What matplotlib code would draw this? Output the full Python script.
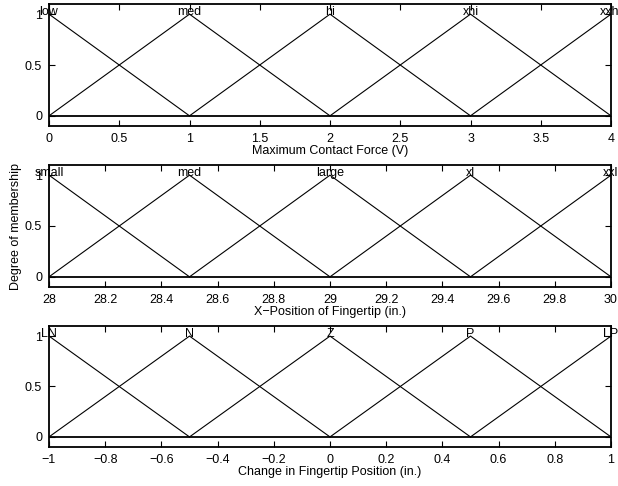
import matplotlib
matplotlib.use("Agg")
import matplotlib.pyplot as plt
import numpy as np

plt.rcParams['font.family'] = ['Liberation Sans', 'DejaVu Sans']

# Membership function data (triangular: [a, b, c])
force_range = [0, 4]
force_names = ["low", "med", "hi", "xhi", "xxhi"]
force_params = [[-1, 0, 1], [0, 1, 2], [1, 2, 3], [2, 3, 4], [3, 4, 5]]
force_ticks = [0, 0.5, 1, 1.5, 2, 2.5, 3, 3.5, 4]
force_ticklabels = ["0", "0.5", "1", "1.5", "2", "2.5", "3", "3.5", "4"]

pos_range = [28, 30]
pos_names = ["small", "med", "large", "xl", "xxl"]
pos_params = [[27.5, 28, 28.5], [28, 28.5, 29], [28.5, 29, 29.5], [29, 29.5, 30], [29.5, 30, 30.5]]
pos_ticks = [28, 28.2, 28.4, 28.6, 28.8, 29, 29.2, 29.4, 29.6, 29.8, 30]
pos_ticklabels = ["28", "28.2", "28.4", "28.6", "28.8", "29", "29.2", "29.4", "29.6", "29.8", "30"]

chg_range = [-1, 1]
chg_names = ["LN", "N", "Z", "P", "LP"]
chg_params = [[-1.5, -1, -0.5], [-1, -0.5, 0], [-0.5, 0, 0.5], [0, 0.5, 1], [0.5, 1, 1.5]]
chg_ticks = [-1, -0.8, -0.6, -0.4, -0.2, 0, 0.2, 0.4, 0.6, 0.8, 1]
chg_ticklabels = ["\u22121", "\u22120.8", "\u22120.6", "\u22120.4", "\u22120.2", "0", "0.2", "0.4", "0.6", "0.8", "1"]

xlabels = ["Maximum Contact Force (V)", "X\u2212Position of Fingertip (in.)",
           "Change in Fingertip Position (in.)"]
y_ticks = [0, 0.5, 1]
y_ticklabels = ["0", "0.5", "1"]

panels = [
    (force_range, force_names, force_params, force_ticks, force_ticklabels),
    (pos_range, pos_names, pos_params, pos_ticks, pos_ticklabels),
    (chg_range, chg_names, chg_params, chg_ticks, chg_ticklabels),
]

W, H = 618, 486
fig = plt.figure(figsize=(W / 100, H / 100), dpi=100)

# axes boxes in pixels: (left, top, right, bottom)
boxes = [(49, 4, 611, 126), (49, 165, 611, 287), (49, 326, 611, 447)]

FS = 9
for i, ((rng, names, params, ticks, tlabels), box) in enumerate(zip(panels, boxes)):
    l, t, r, b = box
    ax = fig.add_axes([l / W, 1 - b / H, (r - l) / W, (b - t) / H])
    for p in params:
        ax.plot(p, [0, 1, 0], color='black', lw=0.8, clip_on=True)
    for name, p in zip(names, params):
        ax.text(p[1], 0.99, name, ha='center', va='baseline', fontsize=FS, clip_on=False)
    ax.axhline(0, color='black', lw=1.3)
    ax.set_xlim(rng)
    ax.set_ylim(-0.1, 1.1)
    ax.set_xticks(ticks)
    ax.set_xticklabels(tlabels)
    ax.set_yticks(y_ticks)
    ax.set_yticklabels(y_ticklabels)
    ax.tick_params(direction='in', length=4, width=0.8, labelsize=FS, pad=5,
                   top=True, right=True)
    for s in ax.spines.values():
        s.set_linewidth(1.3)
    ax.set_xlabel(xlabels[i], fontsize=FS, labelpad=0)
    if i == 1:
        ax.set_ylabel("Degree of membership", fontsize=FS)
        ax.yaxis.set_label_coords((22 - l) / (r - l), 0.5)

fig.savefig("out.png", dpi=100)
